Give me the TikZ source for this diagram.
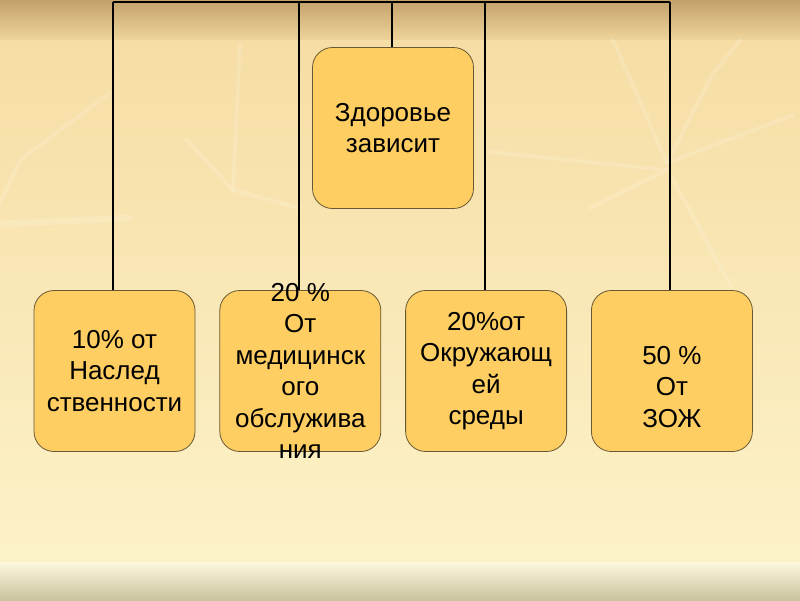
\documentclass[tikz,border=0pt]{standalone}
\usepackage{fontspec}
\setmainfont{Liberation Sans}
\usetikzlibrary{positioning}
\definecolor{boxfill}{RGB}{254,206,98}
\definecolor{boxline}{RGB}{105,88,52}
\definecolor{bgtop}{RGB}{196,162,106}
\definecolor{bgedge}{RGB}{238,212,156}
\definecolor{bgmid}{RGB}{246,221,165}
\definecolor{bglow}{RGB}{252,242,200}
\definecolor{bgband}{RGB}{200,196,156}
\tikzset{
  card/.style={draw=boxline,fill=boxfill,line width=0.8pt,rounded corners=20pt,
    minimum width=161pt,minimum height=161pt},
  cardtext/.style={align=center,inner sep=0pt,font=\fontsize{26}{31.5}\selectfont},
  wire/.style={line width=2pt,black},
  leaf/.style={draw=white,opacity=0.15,line width=4pt,line cap=round,line join=round}
}

\begin{document}
\begin{tikzpicture}[x=1pt,y=-1pt]
  \useasboundingbox (0,0) rectangle (800,600);
  % Background
  \shade[top color=bgtop,bottom color=bgedge] (0,0) rectangle (800,40);
  \shade[top color=bgmid,bottom color=bglow] (0,40) rectangle (800,562);
  \shade[top color=bglow!60!white,bottom color=bgband] (0,562) rectangle (800,600);
  % Leaf streaks
  \draw[leaf] (240,45) -- (233,190) -- (187,140);
  \draw[leaf] (233,190) -- (300,208);
  \draw[leaf] (0,203) -- (20,160) -- (110,93);
  \draw[leaf,line width=7pt] (0,224) -- (130,218);
  \draw[leaf] (613,40) -- (667,163) -- (712,75) -- (740,40);
  \draw[leaf] (667,163) -- (793,115);
  \draw[leaf] (490,152) -- (667,170) -- (590,208);
  \draw[leaf] (672,178) -- (733,290);

  % Cards
  \node[card] (main) at (393,128) {};
  \node[card] (her) at (114.5,371) {};
  \node[card,right=24pt of her] (med) {};
  \node[card,right=24pt of med] (env) {};
  \node[card,right=24pt of env] (zozh) {};

  % Texts
  \node[cardtext] (mainT) at (main) {Здоровье\\зависит};
  \node[cardtext] (herT) at (her) {10\% от\\Наслед\\ственности};
  \node[cardtext] (medT) at (med) {20 \%\\От\\медицинск\\ого\\обслужива\\ния};
  \node[cardtext] (envT) at (env) {20\%от\\Окружающ\\ей\\среды};
  \node[cardtext] (zozhT) at ([yshift=-16pt]zozh.center) {50 \%\\От\\ЗОЖ};

  % Wires
  \coordinate (top) at (393,1.5);
  \draw[wire] ([xshift=-1.5pt]her.north |- top) -- ([xshift=-1.5pt]zozh.north |- top);
  \foreach \n in {her,med,main,env,zozh}
    \draw[wire] ([xshift=-1.5pt]\n.north |- top) -- ([xshift=-1.5pt]\n.north);
\end{tikzpicture}
\end{document}
